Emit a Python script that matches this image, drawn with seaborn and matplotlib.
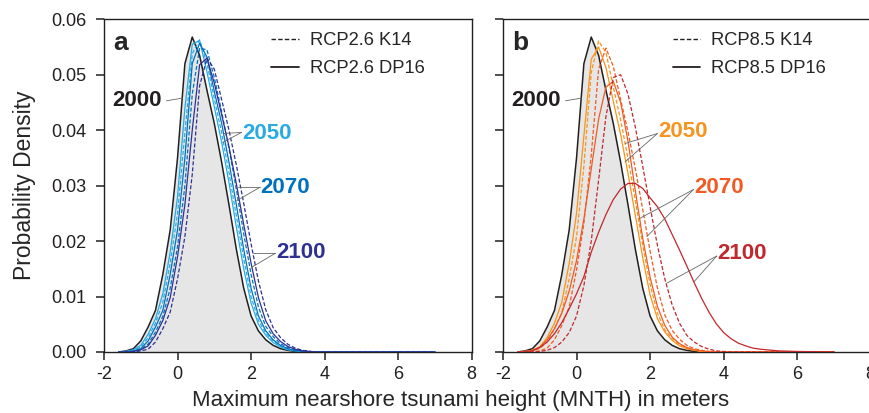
import matplotlib
matplotlib.use("Agg")
import matplotlib.pyplot as plt
from matplotlib.lines import Line2D
import seaborn as sns

# shared x grid (meters)
x_grid = [-1.6, -1.4, -1.2, -1.0, -0.8, -0.6, -0.4, -0.2, 0.0, 0.2, 0.4, 0.6, 0.8, 1.0,
          1.2, 1.4, 1.6, 1.8, 2.0, 2.2, 2.4, 2.6, 2.8, 3.0, 3.2, 3.4, 3.6, 3.8, 4.0,
          4.2, 4.4, 4.6, 4.8, 5.0, 5.5, 6.0, 7.0]

# year 2000 (both panels)
d2000 = [0, 0.0002, 0.0006, 0.002, 0.0045, 0.0075, 0.014, 0.022, 0.035, 0.052, 0.0568, 0.0535,
         0.0472, 0.0412, 0.0342, 0.0265, 0.0185, 0.0115, 0.0065, 0.0038, 0.0022, 0.0012, 0.0006,
         0.0003, 0.0001, 0, 0, 0, 0,
         0, 0, 0, 0, 0, 0, 0, 0]

# panel a, RCP2.6
a_2050_dp = [0, 0.0001, 0.0004, 0.0012, 0.0032, 0.006, 0.0105, 0.018, 0.028, 0.044, 0.0555, 0.0562,
             0.0505, 0.0442, 0.0378, 0.0305, 0.0225, 0.015, 0.0088, 0.005, 0.003, 0.0017, 0.0009,
             0.0004, 0.0002, 0.0001, 0, 0, 0,
             0, 0, 0, 0, 0, 0, 0, 0]
a_2050_k14 = [0, 0.0001, 0.0003, 0.0009, 0.0026, 0.0052, 0.009, 0.016, 0.025, 0.0395, 0.0538, 0.0563,
              0.052, 0.0457, 0.0395, 0.0323, 0.0245, 0.0168, 0.010, 0.0057, 0.0034, 0.002, 0.001,
              0.0005, 0.00025, 0.0001, 0, 0, 0,
              0, 0, 0, 0, 0, 0, 0, 0]
a_2070_dp = [0, 0, 0.0002, 0.0006, 0.002, 0.0045, 0.0075, 0.014, 0.022, 0.035, 0.052, 0.0557,
             0.0532, 0.047, 0.0412, 0.0342, 0.0265, 0.0185, 0.0115, 0.0065, 0.0038, 0.0022, 0.0012,
             0.0006, 0.0003, 0.0001, 0, 0, 0,
             0, 0, 0, 0, 0, 0, 0, 0]
a_2070_k14 = [0, 0, 0.0001, 0.0005, 0.0014, 0.0036, 0.0064, 0.0115, 0.019, 0.030, 0.0465, 0.0548,
              0.0545, 0.0495, 0.0433, 0.0367, 0.0293, 0.0213, 0.014, 0.0081, 0.0046, 0.0028, 0.0015,
              0.0008, 0.0004, 0.0002, 0.0001, 0, 0,
              0, 0, 0, 0, 0, 0, 0, 0]
a_2100_dp = [0, 0, 0.0001, 0.0004, 0.0011, 0.003, 0.0057, 0.0098, 0.0172, 0.0266, 0.040, 0.0518,
             0.053, 0.0485, 0.0428, 0.037, 0.0303, 0.023, 0.016, 0.0098, 0.0056, 0.0033, 0.0019,
             0.001, 0.0005, 0.0002, 0.0001, 0, 0,
             0, 0, 0, 0, 0, 0, 0, 0]
a_2100_k14 = [0, 0, 0, 0.0002, 0.0005, 0.0018, 0.0042, 0.0072, 0.0132, 0.0208, 0.032, 0.048,
              0.053, 0.051, 0.0455, 0.040, 0.0337, 0.0268, 0.0195, 0.0128, 0.0076, 0.0044, 0.0026,
              0.0014, 0.0007, 0.0003, 0.0001, 0, 0,
              0, 0, 0, 0, 0, 0, 0, 0]

# panel b, RCP8.5
b_2050_dp = [0, 0.0001, 0.0003, 0.0009, 0.0026, 0.0052, 0.009, 0.016, 0.025, 0.039, 0.0528, 0.055,
             0.0513, 0.0452, 0.0392, 0.0322, 0.0246, 0.017, 0.0103, 0.006, 0.0036, 0.0021, 0.0011,
             0.0006, 0.0003, 0.0001, 0, 0, 0,
             0, 0, 0, 0, 0, 0, 0, 0]
b_2050_k14 = [0, 0, 0.0002, 0.0006, 0.0018, 0.0042, 0.0072, 0.0132, 0.0208, 0.0335, 0.0504, 0.0561,
              0.054, 0.0478, 0.0418, 0.0349, 0.0273, 0.0193, 0.0122, 0.007, 0.004, 0.0024, 0.0013,
              0.0007, 0.0003, 0.0001, 0, 0, 0,
              0, 0, 0, 0, 0, 0, 0, 0]
b_2070_dp = [0, 0.0001, 0.0003, 0.0009, 0.0022, 0.0042, 0.007, 0.011, 0.0165, 0.024, 0.033, 0.042,
             0.0478, 0.0488, 0.045, 0.038, 0.029, 0.0205, 0.0135, 0.0082, 0.0048, 0.0027, 0.0015,
             0.0008, 0.0004, 0.0002, 0.0001, 0, 0,
             0, 0, 0, 0, 0, 0, 0, 0]
b_2070_k14 = [0, 0, 0, 0.0002, 0.0007, 0.0022, 0.0048, 0.0081, 0.0148, 0.0232, 0.0355, 0.051,
              0.0548, 0.0515, 0.0455, 0.0397, 0.033, 0.0257, 0.0182, 0.0115, 0.0067, 0.0039, 0.0023,
              0.0012, 0.0006, 0.0003, 0.0001, 0, 0,
              0, 0, 0, 0, 0, 0, 0, 0]
b_2100_dp = [0, 0, 0.0002, 0.0008, 0.0018, 0.0033, 0.0053, 0.0078, 0.0105, 0.0136, 0.018, 0.0216,
             0.0248, 0.0275, 0.0294, 0.0304, 0.0304, 0.0295, 0.0278, 0.0262, 0.024, 0.0212, 0.0184,
             0.0155, 0.0125, 0.0097, 0.0072, 0.0051, 0.0035,
             0.0024, 0.0016, 0.0011, 0.0007, 0.0005, 0.0002, 0.0001, 0]
b_2100_k14 = [0, 0, 0, 0.0001, 0.0003, 0.0008, 0.0018, 0.0035, 0.0065, 0.012, 0.02, 0.031,
              0.0425, 0.0495, 0.050, 0.0465, 0.0405, 0.0335, 0.0262, 0.0192, 0.0132, 0.0085, 0.0052,
              0.003, 0.0018, 0.001, 0.0005, 0.0002, 0.0001,
              0, 0, 0, 0, 0, 0, 0, 0]

x_ticks = [-2, 0, 2, 4, 6, 8]
x_tick_labels = ["-2", "0", "2", "4", "6", "8"]
y_ticks = [0, 0.01, 0.02, 0.03, 0.04, 0.05, 0.06]
y_tick_labels = ["0.00", "0.01", "0.02", "0.03", "0.04", "0.05", "0.06"]

blues = {"2050": "#29abe2", "2070": "#0071bc", "2100": "#2e3192"}
reds = {"2050": "#f7931e", "2070": "#f15a24", "2100": "#c1272d"}

panels = {
    "a": dict(scen="RCP2.6", colors=blues,
              curves={("2050", "DP16"): a_2050_dp, ("2050", "K14"): a_2050_k14,
                      ("2070", "DP16"): a_2070_dp, ("2070", "K14"): a_2070_k14,
                      ("2100", "DP16"): a_2100_dp, ("2100", "K14"): a_2100_k14}),
    "b": dict(scen="RCP8.5", colors=reds,
              curves={("2050", "DP16"): b_2050_dp, ("2050", "K14"): b_2050_k14,
                      ("2070", "DP16"): b_2070_dp, ("2070", "K14"): b_2070_k14,
                      ("2100", "DP16"): b_2100_dp, ("2100", "K14"): b_2100_k14}),
}

# label text position, then leader line start and end points (data coords)
labels = {
    "a": {"2050": ((1.76, 0.0394), (1.74, 0.0396), [(1.24, 0.0394), (1.23, 0.0378)]),
          "2070": ((2.26, 0.0297), (2.24, 0.0297), [(1.65, 0.0297), (1.61, 0.0273)]),
          "2100": ((2.68, 0.0179), (2.66, 0.0178), [(2.06, 0.0178), (2.02, 0.0153)])},
    "b": {"2050": ((2.22, 0.0397), (2.20, 0.0394), [(1.32, 0.0376), (1.32, 0.0343)]),
          "2070": ((3.20, 0.0297), (3.18, 0.0293), [(1.72, 0.0241), (1.91, 0.0208)]),
          "2100": ((3.84, 0.0178), (3.81, 0.0173), [(2.45, 0.0124), (3.20, 0.0127)])},
}

sns.set_style("ticks")
plt.rcParams["font.family"] = ["Liberation Sans", "DejaVu Sans"]

fig = plt.figure(figsize=(8.69, 4.13), dpi=100)
ax_a = fig.add_axes([104 / 869, 61 / 413, 367.7 / 869, 332.7 / 413])
ax_b = fig.add_axes([503 / 869, 61 / 413, 367.7 / 869, 332.7 / 413])

for key, ax in [("a", ax_a), ("b", ax_b)]:
    p = panels[key]
    ax.fill_between(x_grid, d2000, color="#e6e6e6", lw=0, zorder=1)
    sns.lineplot(x=x_grid, y=d2000, ax=ax, color="#231f20", lw=1.1, zorder=3)
    for (year, src), vals in p["curves"].items():
        ls = (0, (3.2, 1.6)) if src == "K14" else "-"
        sns.lineplot(x=x_grid, y=vals, ax=ax, color=p["colors"][year], lw=0.9,
                     linestyle=ls, zorder=4)

    ax.set_xlim(-2, 8)
    ax.set_ylim(0, 0.06)
    ax.set_xticks(x_ticks, x_tick_labels)
    ax.set_yticks(y_ticks, y_tick_labels if key == "a" else [])
    ax.tick_params(axis="both", direction="out", length=5.8, width=1.1,
                   labelsize=13, colors="#231f20")
    ax.tick_params(axis="y", pad=7)
    ax.tick_params(axis="x", pad=4.5)
    for s in ax.spines.values():
        s.set_linewidth(1.0)
        s.set_color("#231f20")

    # panel letter
    ax.text(0.025, 0.908, key, transform=ax.transAxes, fontsize=19,
            fontweight="bold", va="baseline", ha="left")

    # 2000 label
    ax.text(-0.43, 0.0454, "2000", fontsize=16, fontweight="bold", color="#231f20",
            ha="right", va="center")
    ax.plot([-0.30, 0.14], [0.0453, 0.0458], color="#666666", lw=0.6, zorder=5)

    for year, (tpos, start, ends) in labels[key].items():
        ax.text(tpos[0], tpos[1], year, fontsize=16, fontweight="bold",
                color=p["colors"][year], ha="left", va="center")
        for e in ends:
            ax.plot([start[0], e[0]], [start[1], e[1]], color="#666666", lw=0.6, zorder=5)

    handles = [Line2D([], [], color="#231f20", lw=1.0, linestyle=(0, (3.2, 1.6))),
               Line2D([], [], color="#231f20", lw=1.3)]
    ax.legend(handles, [p["scen"] + " K14", p["scen"] + " DP16"], loc="upper left",
              bbox_to_anchor=(0.455 if key == "a" else 0.462, 0.962), frameon=False,
              fontsize=13.2, handlelength=1.5, handletextpad=0.6, labelspacing=0.6,
              borderpad=0, borderaxespad=0)

ax_a.set_ylabel("Probability Density", fontsize=16.5)
ax_a.yaxis.set_label_coords(-0.185, 0.5)
fig.text(0.53, 0.018, "Maximum nearshore tsunami height (MNTH) in meters",
         fontsize=16, ha="center", va="baseline")

fig.savefig("out.png", dpi=100)
